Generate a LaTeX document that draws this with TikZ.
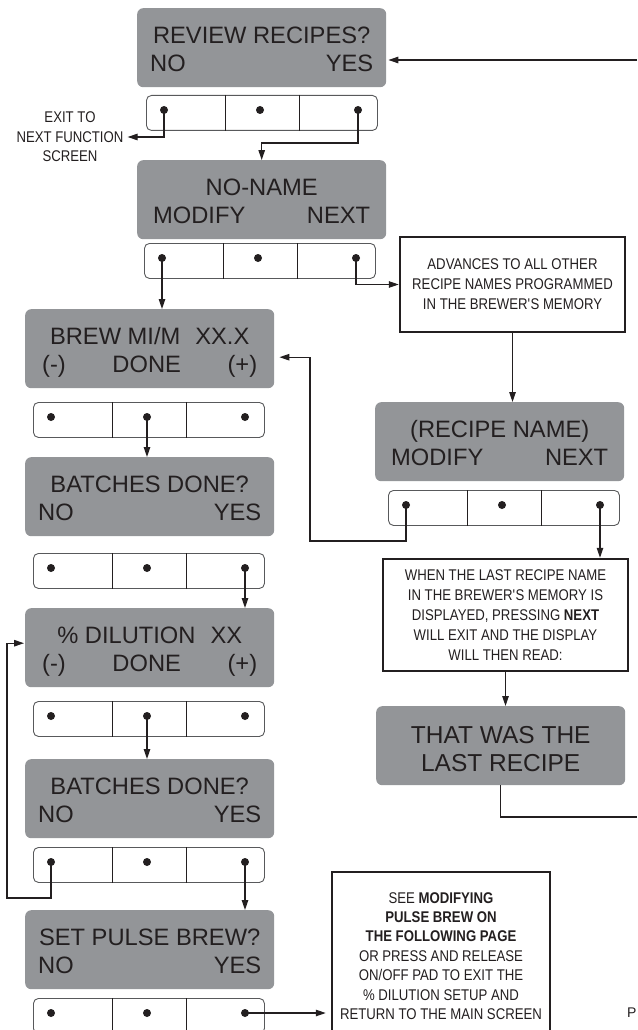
\documentclass[tikz,border=0pt]{standalone}
\usepackage{fontspec}
\setmainfont{Liberation Sans}
\newfontfamily\condfont[FakeStretch=0.85]{Liberation Sans}
\usetikzlibrary{arrows.meta,calc}
\definecolor{scrgray}{RGB}{147,149,152}
\definecolor{txt}{RGB}{35,31,32}
\definecolor{btnline}{RGB}{88,89,91}

\newcommand{\dispfont}{\fontsize{23.7}{28}\selectfont}
\newcommand{\bigdispfont}{\fontsize{24.5}{28}\selectfont}
\newcommand{\boxfont}{\condfont\fontsize{15.5}{20}\selectfont}

\tikzset{
  screen/.style={rectangle, fill=scrgray, draw=none, rounded corners=6pt,
    minimum width=249pt, minimum height=79pt, inner sep=0pt},
  btn/.style={rectangle, draw=btnline, line width=0.9pt, rounded corners=5pt, fill=white,
    minimum width=231pt, minimum height=35pt, inner sep=0pt},
  divider/.style={draw=txt, line width=0.9pt},
  disp/.style={font=\dispfont, text=txt, inner sep=0pt},
  infobox/.style={rectangle, draw=txt, line width=2.5pt, fill=white, align=center,
    font=\boxfont, text=txt, inner sep=0pt},
  arr/.style={draw=txt, line width=1.2pt, -{Triangle[length=10pt,width=6.5pt]}},
  conn/.style={draw=txt, line width=1.2pt},
}

\newcommand{\mkscreen}[3]{\node[screen, anchor=north west] (#1) at (#2,#3) {};}
\newcommand{\mkbtn}[3]{%
  \node[btn, anchor=north west] (#1) at (#2,#3) {};
  \draw[divider] ($(#1.north west)+(79,0)$) -- ($(#1.south west)+(79,0)$);
  \draw[divider] ($(#1.north west)+(153,0)$) -- ($(#1.south west)+(153,0)$);
  \coordinate (#1d1) at ($(#1.north west)+(18,15)$);
  \coordinate (#1d2) at ($(#1.north west)+(114,15)$);
  \coordinate (#1d3) at ($(#1.north west)+(212,15)$);
  \fill[txt] (#1d1) circle[radius=4pt] (#1d2) circle[radius=4pt] (#1d3) circle[radius=4pt];}
\newcommand{\lineone}[2]{\node[disp, anchor=base] (#1t) at ($(#1.north)+(0,35.5)$) {#2};}
\newcommand{\twoends}[4]{%
  \node[disp, anchor=base west] (#1l) at ($(#1.north west)+(#4,63.5)$) {#2};
  \node[disp, anchor=base east] (#1r) at ($(#1.north east)+(-#4,63.5)$) {#3};}
\newcommand{\minusplus}[1]{%
  \node[disp, anchor=base west] (#1l) at ($(#1.north west)+(17,63.5)$) {(-)};
  \node[disp, anchor=base] (#1c) at ($(#1.north)+(-3,63.5)$) {DONE};
  \node[disp, anchor=base east] (#1r) at ($(#1.north east)+(-17,63.5)$) {(+)};}

\begin{document}
\begin{tikzpicture}[x=1pt, y=-1pt]
\useasboundingbox (0,0) rectangle (637,1030);

% screens
\mkscreen{S1}{137}{8}
\mkscreen{S2}{137}{160}
\mkscreen{S3}{25}{309}
\mkscreen{S4}{25}{457}
\mkscreen{S5}{25}{608}
\mkscreen{S6}{25}{759}
\mkscreen{S7}{25}{910}
\mkscreen{SR}{375}{402}
\mkscreen{ST}{376}{706}

\lineone{S1}{REVIEW RECIPES?}
\twoends{S1}{NO}{YES}{13}
\lineone{S2}{NO-NAME}
\twoends{S2}{MODIFY}{NEXT}{16}
\lineone{S3}{BREW MI/M\hspace{15pt}XX.X}
\minusplus{S3}
\lineone{S4}{BATCHES DONE?}
\twoends{S4}{NO}{YES}{13}
\lineone{S5}{\%~DILUTION\hspace{15pt}XX}
\minusplus{S5}
\lineone{S6}{BATCHES DONE?}
\twoends{S6}{NO}{YES}{13}
\lineone{S7}{SET PULSE BREW?}
\twoends{S7}{NO}{YES}{13}
\lineone{SR}{(RECIPE NAME)}
\twoends{SR}{MODIFY}{NEXT}{16}
\node[disp, font=\bigdispfont, anchor=base] (STa) at ($(ST.north)+(0,37.5)$) {THAT WAS THE};
\node[disp, font=\bigdispfont, anchor=base] (STb) at ($(ST.north)+(0,65.5)$) {LAST RECIPE};

% button rows
\mkbtn{R1}{146}{95}
\mkbtn{R2}{144}{243}
\mkbtn{R3}{33}{402}
\mkbtn{R4}{33}{553}
\mkbtn{R5}{33}{701}
\mkbtn{R6}{33}{847}
\mkbtn{R7}{33}{998}
\mkbtn{RR}{388}{490}

% info boxes
\node[infobox, minimum width=225pt, minimum height=95pt] (ADV) at (512.5,284.5)
  {ADVANCES TO ALL OTHER\\RECIPE NAMES PROGRAMMED\\IN THE BREWER\textquotesingle S MEMORY};
\node[infobox, minimum width=245pt, minimum height=112pt] (WHEN) at (505.5,615)
  {WHEN THE LAST RECIPE NAME\\IN THE BREWER\textquotesingle S MEMORY IS\\DISPLAYED, PRESSING \textbf{NEXT}\\WILL EXIT AND THE DISPLAY\\WILL THEN READ:};
\node[infobox, minimum width=218pt, minimum height=168pt,
  font=\condfont\fontsize{15.5}{19.4}\selectfont] (SEE) at (441,956)
  {SEE \textbf{MODIFYING}\\\textbf{PULSE BREW ON}\\\textbf{THE FOLLOWING PAGE}\\OR PRESS AND RELEASE\\ON/OFF PAD TO EXIT THE\\\% DILUTION SETUP AND\\RETURN TO THE MAIN SCREEN};
\node[font=\condfont\fontsize{15.5}{19.5}\selectfont, text=txt, align=center, inner sep=4pt] (EXIT) at (70,137)
  {EXIT TO\\NEXT FUNCTION\\SCREEN};
\node[font=\fontsize{14}{18}\selectfont, text=txt, anchor=base west, inner sep=0pt] (P) at (627,1017) {P};

% helper coordinates
\coordinate (tr) at (637,60);
\coordinate (c1) at ($(S2.north)+(0,-17)$);
\coordinate (c2) at (310,541);
\coordinate (c3) at (7,898);
\coordinate (br) at (637,817);

% connectors
\draw[arr, shorten >=2pt] (tr) -- (tr -| S1.east);
\draw[arr] (R1d1) |- (EXIT.east);
\draw[arr] (R1d3) |- (c1) -- (S2.north);
\draw[arr] (R2d1) -- (R2d1 |- S3.north);
\draw[arr] (R2d3) |- (ADV.west);
\draw[arr] (ADV.south) -- (ADV.south |- SR.north);
\draw[arr] (RRd1) |- (c2) |- ($(S3.east)+(5,8.5)$);
\draw[arr] (RRd3) -- (RRd3 |- WHEN.north);
\draw[arr] (WHEN.south) -- (WHEN.south |- ST.north);
\draw[conn] (ST.south) |- (br);
\draw[arr] (R3d2) -- (R3d2 |- S4.north);
\draw[arr] (R4d3) -- (R4d3 |- S5.north);
\draw[arr] (R5d2) -- (R5d2 |- S6.north);
\draw[arr] (R6d1) |- (c3) |- ($(S5.west)+(-1,-4.5)$);
\draw[arr] (R6d3) -- (R6d3 |- S7.north);
\draw[arr, shorten >=5pt] (R7d3) -- (R7d3 -| SEE.west);
\end{tikzpicture}
\end{document}
